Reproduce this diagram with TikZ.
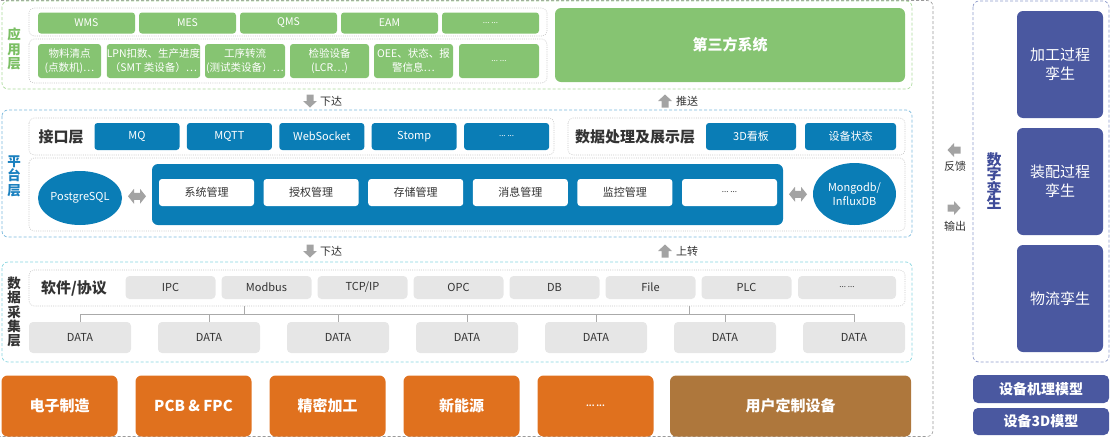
\documentclass[tikz,border=0pt]{standalone}
\usepackage{fontspec}
\setmainfont{Noto Sans CJK SC}
\usetikzlibrary{shapes.geometric, calc}

\definecolor{appgreen}{HTML}{86C472}
\definecolor{appline}{HTML}{A9D99A}
\definecolor{applabel}{HTML}{7BBF64}
\definecolor{platblue}{HTML}{0A7DB6}
\definecolor{platline}{HTML}{79B8DC}
\definecolor{platlabel}{HTML}{1A80BF}
\definecolor{cyanline}{HTML}{86D5DF}
\definecolor{dotgray}{HTML}{C6C6C6}
\definecolor{boxgray}{HTML}{E6E6E6}
\definecolor{txtdark}{HTML}{333333}
\definecolor{arrgray}{HTML}{A3A3A3}
\definecolor{busgray}{HTML}{AAAAAA}
\definecolor{outgray}{HTML}{9A9A9A}
\definecolor{orng}{HTML}{E0711E}
\definecolor{brwn}{HTML}{AE773C}
\definecolor{indigo}{HTML}{4A58A0}
\definecolor{indline}{HTML}{8E9BCB}
\definecolor{indlabel}{HTML}{3F4C99}

% placeholder text for the open-ended boxes
\newcommand{\moredots}{{\fontsize{8}{10}\selectfont ...\ ...}}

\begin{document}
\begin{tikzpicture}[x=1pt, y=-1pt,
  layer/.style={rounded corners=6pt, dash pattern=on 3pt off 2pt, line width=0.7pt},
  dotbox/.style={draw=dotgray, rounded corners=5pt, dash pattern=on 1pt off 1.2pt, line width=0.6pt},
  appbox/.style={fill=appgreen, text=white, rounded corners=3pt, inner sep=0pt, align=center, font=\fontsize{10.5}{14}\selectfont},
  bluebox/.style={fill=platblue, text=white, rounded corners=3pt, inner sep=0pt, minimum height=27pt, font=\fontsize{11}{13}\selectfont},
  whitebox/.style={fill=white, text=txtdark, rounded corners=3pt, inner sep=0pt, minimum width=95pt, minimum height=27pt, font=\fontsize{11}{13}\selectfont},
  graybox/.style={fill=boxgray, text=txtdark, rounded corners=4pt, inner sep=0pt, font=\fontsize{11}{13}\selectfont},
  dbell/.style={ellipse, fill=platblue, text=white, inner sep=0pt, align=center, font=\fontsize{11}{14}\selectfont},
  industry/.style={rounded corners=6pt, text=white, inner sep=0pt, minimum height=61pt, font=\bfseries\fontsize{15}{18}\selectfont},
  twin/.style={fill=indigo, text=white, rounded corners=6pt, inner sep=0pt, minimum width=86pt, minimum height=107pt, align=center, font=\fontsize{15}{19}\selectfont},
  model/.style={fill=indigo, text=white, rounded corners=5pt, inner sep=0pt, minimum width=136pt, font=\bfseries\fontsize{14}{16}\selectfont},
  vlabel/.style={align=center, inner sep=0pt, font=\bfseries\fontsize{13.5}{14.4}\selectfont},
  title/.style={text=txtdark, inner sep=0pt, font=\bfseries\fontsize{15}{18}\selectfont},
  note/.style={text=txtdark, inner sep=0pt, font=\fontsize{11}{13}\selectfont},
  bus/.style={draw=busgray, line width=0.8pt},
  % block arrow pointing down (+y), rotate for the other directions
  blkarrow/.pic={\fill[arrgray] (-3.5,-6.5) -- (3.5,-6.5) -- (3.5,0) -- (7,0) -- (0,6.5) -- (-7,0) -- (-3.5,0) -- cycle;},
  dblarrow/.pic={\fill[arrgray] (-9,0) -- (-3,-7.5) -- (-3,-3.5) -- (3,-3.5) -- (3,-7.5) -- (9,0) -- (3,7.5) -- (3,3.5) -- (-3,3.5) -- (-3,7.5) -- cycle;}
]
\useasboundingbox (0,0) rectangle (1110,437);

% Outer frame
\draw[dash pattern=on 3pt off 2pt, draw=outgray, line width=0.6pt, rounded corners=6pt] (-10,0.5) rectangle (933,436.5);

% Application layer
\draw[layer, draw=appline] (2,1) rectangle (912,89);
\draw[dotbox] (29,8) rectangle (547,36);
\draw[dotbox] (29,39) rectangle (547,83);
\node[vlabel, text=applabel] (applbl) at (14,49) {应\\用\\层};
\foreach \name [count=\i from 0] in {WMS,MES,QMS,EAM,\moredots}
  \node[appbox, minimum width=97pt, minimum height=21pt] (sys\i) at (86.5+101*\i,23) {\name};
\foreach \cx/\w/\txt [count=\i] in {69.5/63/{物料清点\\(点数机)\ldots}, 153.5/93/{LPN扣数、生产进度\\（SMT 类设备）\ldots},
    245/80/{工序转流\\(测试类设备）\ldots}, 329.5/79/{检验设备\\(LCR\ldots)}, 413.5/79/{OEE、状态、报\\警信息\ldots}, 499/80/{\moredots}}
  \node[appbox, minimum width=\w pt, minimum height=34pt] (dev\i) at (\cx,61) {\txt};
\node[appbox, minimum width=350pt, minimum height=74pt, rounded corners=6pt, font=\bfseries\fontsize{15}{18}\selectfont] (third) at (730,45) {第三方系统};

% Arrows between application and platform
\pic (down1) at (310,101) {blkarrow};
\node[note, anchor=west] (down1t) at (320,101) {下达};
\pic[rotate=180] (push) at (665,101) {blkarrow};
\node[note, anchor=west] (pusht) at (676,101) {推送};

% Platform layer
\draw[layer, draw=platline] (2,110) rectangle (912,237);
\draw[dotbox] (29,118) rectangle (554,155);
\draw[dotbox] (568,118) rectangle (905,155);
\draw[dotbox] (29,158) rectangle (905,231);
\node[vlabel, text=platlabel] (platlbl) at (14,176) {平\\台\\层};
\node[title] (iface) at (61,137) {接口层};
\foreach \name [count=\i from 0] in {MQ,MQTT,WebSocket,Stomp,\moredots}
  \node[bluebox, minimum width=85pt] (if\i) at (137+92.4*\i,136.5) {\name};
\node[title] (dproc) at (635,137) {数据处理及展示层};
\node[bluebox, minimum width=90pt] (board) at (751,136.5) {3D看板};
\node[bluebox, minimum width=91pt] (state) at (850.5,136.5) {设备状态};
\node[dbell, minimum width=84pt, minimum height=54pt] (pg) at (80,198) {PostgreSQL};
\node[fill=platblue, rounded corners=6pt, minimum width=631pt, minimum height=61pt, inner sep=0pt] (core) at (467.5,194.5) {};
\foreach \name [count=\i from 0] in {系统管理,授权管理,存储管理,消息管理,监控管理,\moredots}
  \node[whitebox] (mg\i) at (206.5+104.6*\i,192.5) {\name};
\node[dbell, minimum width=83pt, minimum height=62pt] (mongo) at (854.5,194) {Mongodb/\\InfluxDB};
\pic (lnk1) at ($(pg.east)!0.5!(core.west)$) {dblarrow};
\pic (lnk2) at ($(core.east)!0.5!(mongo.west)$) {dblarrow};

% Arrows between platform and acquisition
\pic (down2) at (310,251) {blkarrow};
\node[note, anchor=west] (down2t) at (320,251) {下达};
\pic[rotate=180] (up2) at (665,251) {blkarrow};
\node[note, anchor=west] (up2t) at (676,251) {上转};

% Data acquisition layer
\draw[layer, draw=cyanline] (2,262) rectangle (912,362);
\draw[dotbox] (29,270) rectangle (905,306);
\node[vlabel, text=txtdark] (acqlbl) at (14,312) {数\\据\\采\\集\\层};
\node[title] (soft) at (74,288) {软件/协议};
\foreach \name [count=\i from 0] in {IPC,Modbus,TCP/IP,OPC,DB,File,PLC}
  \node[graybox, minimum width=90pt, minimum height=23pt] (pr\i) at (170.5+96*\i,287.5) {\name};
\node[graybox, minimum width=98pt, minimum height=23pt] (pr7) at (847,287.5) {\moredots};
\foreach \i in {1,2,3,4,5,6,7}
  \node[graybox, minimum width=102pt, minimum height=31pt] (d\i) at (80+129*\i-129,337.5) {DATA};

% Bus to the DATA boxes
\coordinate (busy) at (0,314);
\coordinate (tapL) at (244,306);
\coordinate (tapR) at (689,306);
\draw[bus] (d1.north) -- (d1.north |- busy) -- (d7.north |- busy) -- (d7.north);
\foreach \i in {2,3,4,5,6}
  \draw[bus] (d\i.north) -- (d\i.north |- busy);
\draw[bus] (tapL) -- (tapL |- busy);
\draw[bus] (tapR) -- (tapR |- busy);

% Industries
\foreach \name [count=\i from 0] in {电子制造,PCB \& FPC,精密加工,新能源,\moredots}
  \node[industry, fill=orng, minimum width=116pt] (ind\i) at (59.5+134*\i,406) {\name};
\node[industry, fill=brwn, minimum width=241pt] (custom) at (790.5,406) {用户定制设备};

% Digital twin
\draw[layer, draw=indline] (973,1) rectangle (1109,362);
\node[vlabel, text=indlabel, font=\bfseries\fontsize{15}{14.5}\selectfont] (twinlbl) at (994,181) {数\\字\\孪\\生};
\node[twin] (tw1) at (1060,64.5) {加工过程\\孪生};
\node[twin] (tw2) at (1060,181.5) {装配过程\\孪生};
\node[twin] (tw3) at (1060,298.5) {物流孪生};
\node[model, minimum height=28pt] (mech) at (1041,389) {设备机理模型};
\node[model, minimum height=27pt] (m3d) at (1041,421.5) {设备3D模型};
\pic[rotate=-90] (fb) at (954,150) {blkarrow};
\node[note] (fbt) at (955,166) {反馈};
\pic[rotate=90] (out) at (954,208) {blkarrow};
\node[note] (outt) at (955,226) {输出};

\end{tikzpicture}
\end{document}
